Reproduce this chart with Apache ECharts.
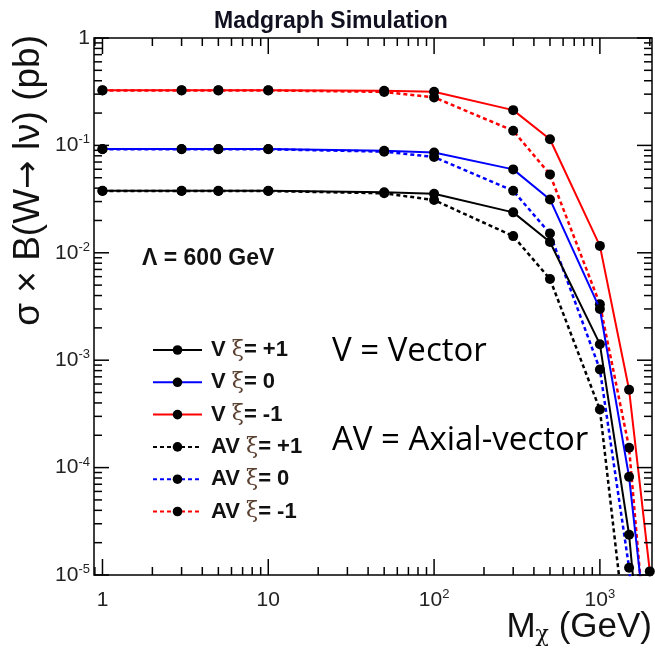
<!DOCTYPE html>
<html>
<head>
<meta charset="utf-8">
<script src="https://cdn.jsdelivr.net/npm/echarts@6/dist/echarts.min.js"></script>
<style>
  html, body { margin: 0; padding: 0; background: #ffffff; }
  #chart { width: 655px; height: 648px; }
</style>
</head>
<body>
<div id="chart"></div>
<script>
// Dark-matter mass points (GeV)
const massPoints = [1, 3, 5, 10, 50, 100, 300, 500, 1000, 1500, 2000];

// sigma x B(W -> l nu) in pb, vector couplings
const vXiPlus1  = [0.0378, 0.0378, 0.0378, 0.0378, 0.0366, 0.0355, 0.0238, 0.0126, 0.00141, 2.37e-5, 2.0e-7];
const vXiZero   = [0.0924, 0.0924, 0.0924, 0.0924, 0.0890, 0.0860, 0.0598, 0.0314, 0.00300, 8.2e-5, 1.5e-6];
const vXiMinus1 = [0.327, 0.327, 0.327, 0.327, 0.322, 0.316, 0.213, 0.114, 0.0116, 5.3e-4, 1.08e-5];

// axial-vector couplings
const avXiPlus1  = [0.0376, 0.0376, 0.0376, 0.0376, 0.0358, 0.0310, 0.0143, 0.0057, 3.47e-4, 1.5e-6, 2.0e-8];
const avXiZero   = [0.0920, 0.0920, 0.0920, 0.0920, 0.0875, 0.0780, 0.0378, 0.0151, 8.2e-4, 1.17e-5, 1.0e-7];
const avXiMinus1 = [0.325, 0.325, 0.325, 0.325, 0.315, 0.280, 0.137, 0.0537, 0.00332, 1.53e-4, 9.0e-7];

// Axis ranges and labelled decades
const xRange = [0.889, 2062];
const yRange = [1e-5, 1];
const xLabelPowers = [0, 1, 2, 3];
const yLabelPowers = [0, -1, -2, -3, -4, -5];

const seriesNames = ['V \u03be= +1', 'V \u03be= 0', 'V \u03be= -1', 'AV \u03be= +1', 'AV \u03be= 0', 'AV \u03be= -1'];

// Tick positions at 1..9 x 10^k inside the ranges
function logTicks(lo, hi) {
  const out = [];
  for (let e = Math.floor(Math.log10(lo)); e <= Math.ceil(Math.log10(hi)); e++) {
    for (let m = 1; m <= 9; m++) {
      const v = m * Math.pow(10, e);
      if (v >= lo * 0.9999 && v <= hi * 1.0001) out.push(v);
    }
  }
  return out;
}
const xTicks = logTicks(xRange[0], xRange[1]);
const yTicks = logTicks(yRange[0], yRange[1]);

function isDecade(v) {
  const l = Math.log10(v);
  return Math.abs(l - Math.round(l)) < 1e-6;
}

function decadeLabel(powers) {
  return function (v) {
    if (!isDecade(v)) return '';
    const e = Math.round(Math.log10(v));
    if (powers.indexOf(e) < 0) return '';
    if (e === 0) return '{n|1}';
    if (e === 1) return '{n|10}';
    return '{n|10}{s|' + e + '}';
  };
}

const labelRich = {
  n: { fontSize: 21, fontFamily: 'Liberation Sans', color: '#222', lineHeight: 24 },
  s: { fontSize: 13, fontFamily: 'Liberation Sans', color: '#222', lineHeight: 14, verticalAlign: 'top' }
};

function pairs(ys) { return massPoints.map((x, i) => [x, ys[i]]); }

function lineSeries(name, ys, color, dashed) {
  return {
    name: name,
    type: 'line',
    data: pairs(ys),
    symbol: 'circle',
    symbolSize: 10,
    clip: true,
    itemStyle: { color: '#000' },
    lineStyle: { color: color, width: dashed ? 2.5 : 2, type: dashed ? [4, 3] : 'solid' },
    emphasis: { disabled: true },
    z: dashed ? 2 : 3
  };
}

// ROOT-style inward ticks on all four sides
const tickSeries = [
  {
    type: 'custom',
    silent: true,
    clip: false,
    z: 5,
    data: xTicks.map(v => [v, yRange[0]]),
    renderItem: function (params, api) {
      const v = api.value(0);
      const len = isDecade(v) ? 16 : 8;
      const b = api.coord([v, yRange[0]]);
      const t = api.coord([v, yRange[1]]);
      const st = { stroke: '#000', lineWidth: 1.5 };
      return { type: 'group', children: [
        { type: 'line', shape: { x1: b[0], y1: b[1], x2: b[0], y2: b[1] - len }, style: st },
        { type: 'line', shape: { x1: t[0], y1: t[1], x2: t[0], y2: t[1] + len }, style: st }
      ] };
    }
  },
  {
    type: 'custom',
    silent: true,
    clip: false,
    z: 5,
    data: yTicks.map(v => [xRange[0], v]),
    renderItem: function (params, api) {
      const v = api.value(1);
      const len = isDecade(v) ? 15 : 8;
      const l = api.coord([xRange[0], v]);
      const r = api.coord([xRange[1], v]);
      const st = { stroke: '#000', lineWidth: 1.5 };
      return { type: 'group', children: [
        { type: 'line', shape: { x1: l[0], y1: l[1], x2: l[0] + len, y2: l[1] }, style: st },
        { type: 'line', shape: { x1: r[0], y1: r[1], x2: r[0] - len, y2: r[1] }, style: st }
      ] };
    }
  }
];

const chart = echarts.init(document.getElementById('chart'));

chart.setOption({
  animation: false,
  backgroundColor: '#ffffff',
  grid: {
    left: 94, top: 38, right: 3, bottom: 73,
    show: true, borderColor: '#000', borderWidth: 1.5, backgroundColor: 'transparent',
    containLabel: false, outerBoundsMode: 'none'
  },
  xAxis: {
    type: 'log', logBase: 10, min: xRange[0], max: xRange[1],
    axisLine: { show: false }, axisTick: { show: false }, splitLine: { show: false },
    axisLabel: { formatter: decadeLabel(xLabelPowers), rich: labelRich, margin: 13, showMinLabel: false, showMaxLabel: false }
  },
  yAxis: {
    type: 'log', logBase: 10, min: yRange[0], max: yRange[1],
    axisLine: { show: false }, axisTick: { show: false }, splitLine: { show: false },
    axisLabel: { formatter: decadeLabel(yLabelPowers), rich: labelRich, margin: 4 }
  },
  legend: {
    data: seriesNames,
    orient: 'vertical',
    left: 152, top: 339,
    padding: 0,
    itemWidth: 49, itemHeight: 12, itemGap: 10.3,
    selectedMode: false,
    formatter: function (name) { return name.replace('\u03be', '{x|\u03be}'); },
    textStyle: {
      fontFamily: 'Liberation Sans', fontWeight: 'bold', fontSize: 22, color: '#111', lineHeight: 22,
      padding: [0, 0, 0, 4],
      rich: { x: { fontFamily: 'DejaVu Serif', fontWeight: 'normal', fontSize: 22, color: '#5a4030', lineHeight: 22 } }
    }
  },
  graphic: [
    { type: 'text', x: 331, y: 22, style: { text: 'Madgraph Simulation', font: 'bold 23px "Liberation Sans"', fill: '#101020', align: 'center', verticalAlign: 'middle' } },
    { type: 'text', x: 142, y: 259, style: { text: '\u039b = 600 GeV', font: 'bold 23px "Liberation Sans"', fill: '#111', align: 'left', verticalAlign: 'middle' } },
    { type: 'text', x: 332, y: 352, style: { text: 'V = Vector', font: '33px "Open Sans"', fill: '#000', align: 'left', verticalAlign: 'middle' } },
    { type: 'text', x: 332, y: 441, style: { text: 'AV = Axial-vector', font: '33px "Open Sans"', fill: '#000', align: 'left', verticalAlign: 'middle' } },
    // vertical axis title, aligned to the top end of the axis
    { type: 'text', x: 29, y: 35, rotation: Math.PI / 2, style: {
      text: '{a|\u03c3 \u00d7 B(W}{r|\u2192}{a| l\u03bd) (pb)}', align: 'right', verticalAlign: 'middle',
      rich: {
        a: { font: '37px "Liberation Sans"', fill: '#111', lineHeight: 40 },
        r: { font: '34px "DejaVu Sans"', fill: '#111', lineHeight: 40 }
      } } },
    { type: 'text', x: 652, y: 627, style: {
      text: '{m|M}{c|\u03c7}{m| (GeV)}', align: 'right', verticalAlign: 'middle',
      rich: {
        m: { font: '35px "Liberation Sans"', fill: '#111', lineHeight: 38 },
        c: { font: '22px "DejaVu Serif"', fill: '#111', lineHeight: 18, verticalAlign: 'bottom' }
      } } }
  ],
  series: [
    lineSeries(seriesNames[3], avXiPlus1, '#000000', true),
    lineSeries(seriesNames[4], avXiZero, '#0000ff', true),
    lineSeries(seriesNames[5], avXiMinus1, '#ff0000', true),
    lineSeries(seriesNames[0], vXiPlus1, '#000000', false),
    lineSeries(seriesNames[1], vXiZero, '#0000ff', false),
    lineSeries(seriesNames[2], vXiMinus1, '#ff0000', false)
  ].concat(tickSeries)
});
</script>
</body>
</html>
